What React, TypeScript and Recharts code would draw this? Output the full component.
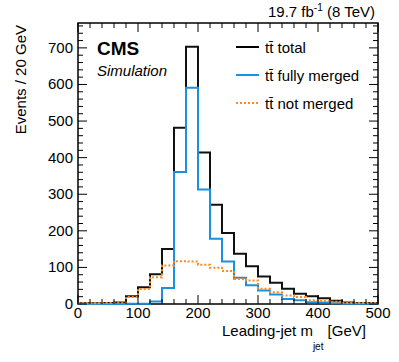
import React from 'react';
import { LineChart, Line, XAxis, YAxis, ReferenceArea } from 'recharts';

// bin edges in GeV (20 GeV bins), last edge closes the histogram
const binEdges = [
  0, 20, 40, 60, 80, 100, 120, 140, 160, 180, 200, 220, 240,
  260, 280, 300, 320, 340, 360, 380, 400, 420, 440, 460, 480, 500,
];

const totalCounts = [
  2, 2, 3, 4, 21, 46, 81, 150, 482, 703, 414, 271, 194,
  137, 103, 75, 58, 42, 28, 21, 16, 9, 4, 3, 3,
];
const mergedCounts = [
  0, 0, 0, 0, 1, 1, 7, 44, 361, 591, 313, 178, 116,
  72, 51, 37, 26, 14, 10, 5, 4, 2, 1, 1, 1,
];
const notMergedCounts = [
  2, 2, 3, 4, 19, 41, 73, 105, 117, 116, 107, 99, 90,
  68, 64, 42, 32, 23, 19, 10, 8, 6, 3, 3, 3,
];

const Y_MAX = 768;

const W = 399;
const H = 362;
const M = { top: 23, right: 21, bottom: 58, left: 78 };
const PW = W - M.left - M.right;
const PH = H - M.top - M.bottom;

const FONT = '"Liberation Sans", Arial, Helvetica, sans-serif';
const BLUE = '#1b8fe0';
const ORANGE = '#ff8a1c';

// step data: each row is the left edge of a bin, final row repeats the last bin
const rows = binEdges.map((edge, i) => {
  const j = Math.min(i, totalCounts.length - 1);
  return {
    x: edge,
    total: totalCounts[j],
    merged: mergedCounts[j],
    notMerged: notMergedCounts[j],
  };
});

const xMinor: number[] = [];
for (let v = 0; v <= 500; v += 20) xMinor.push(v);
const yMinor: number[] = [];
for (let v = 0; v <= 760; v += 20) yMinor.push(v);

// ticks point inwards, mirrored on top / right like ROOT
const XTick = (props: any) => {
  const { x, y, payload } = props;
  const major = payload.value % 100 === 0;
  const len = major ? 9 : 5;
  return (
    <g>
      <line x1={x} x2={x} y1={y} y2={y - len} stroke="#000" strokeWidth={1} />
      <line x1={x} x2={x} y1={y - PH} y2={y - PH + len} stroke="#000" strokeWidth={1} />
      {major && (
        <text x={x} y={y + 14} textAnchor="middle" fontSize={15} fontFamily={FONT} fill="#000">
          {payload.value}
        </text>
      )}
    </g>
  );
};

const YTick = (props: any) => {
  const { x, y, payload } = props;
  const major = payload.value % 100 === 0;
  const len = major ? 9 : 5;
  return (
    <g>
      <line x1={x} x2={x + len} y1={y} y2={y} stroke="#000" strokeWidth={1} />
      <line x1={x + PW} x2={x + PW - len} y1={y} y2={y} stroke="#000" strokeWidth={1} />
      {major && (
        <text x={x - 5} y={y + 5} textAnchor="end" fontSize={15} fontFamily={FONT} fill="#000">
          {payload.value}
        </text>
      )}
    </g>
  );
};

const legendItems = [
  { label: ' total', color: '#000', dash: undefined as string | undefined },
  { label: ' fully merged', color: BLUE, dash: undefined },
  { label: ' not merged', color: ORANGE, dash: '2 2' },
];

const TTbar = () => (
  <tspan>t<tspan>t&#x0304;</tspan></tspan>
);

export default function App() {
  return (
    <div style={{ position: 'absolute', left: 0, top: 0, background: '#fff' }}>
      <LineChart width={W} height={H} data={rows} margin={{ top: M.top, right: M.right, bottom: 0, left: 0 }}>
        <XAxis
          dataKey="x"
          type="number"
          domain={[0, 500]}
          ticks={xMinor}
          tick={<XTick />}
          tickLine={false}
          tickSize={0}
          tickMargin={0}
          axisLine={false}
          height={M.bottom}
          interval={0}
        />
        <YAxis
          type="number"
          domain={[0, Y_MAX]}
          ticks={yMinor}
          tick={<YTick />}
          tickLine={false}
          tickSize={0}
          tickMargin={0}
          axisLine={false}
          width={M.left}
          interval={0}
        />
        <Line type="stepAfter" dataKey="total" stroke="#111" strokeWidth={2} dot={false} isAnimationActive={false} />
        <Line type="stepAfter" dataKey="merged" stroke={BLUE} strokeWidth={2} dot={false} isAnimationActive={false} />
        <Line type="stepAfter" dataKey="notMerged" stroke={ORANGE} strokeWidth={2} strokeDasharray="2 2" dot={false} isAnimationActive={false} />
        <ReferenceArea x1={0} x2={500} y1={0} y2={Y_MAX} fill="none" stroke="#000" strokeWidth={1.5} ifOverflow="extendDomain" />
        {/* overlay text */}
        <text x={375} y={17} textAnchor="end" fontSize={15} fontFamily={FONT} fill="#000">
          19.7 fb<tspan dy={-6} fontSize={10}>-1</tspan><tspan dy={6}> (8 TeV)</tspan>
        </text>
        <text x={97} y={55} fontSize={19} fontWeight="bold" fontFamily={FONT} fill="#000">CMS</text>
        <text x={97} y={76} fontSize={15} fontStyle="italic" fontFamily={FONT} fill="#000">Simulation</text>
        {legendItems.map((it, i) => (
          <g key={i}>
            <line x1={236} x2={259} y1={47 + i * 28} y2={47 + i * 28} stroke={it.color} strokeWidth={2} strokeDasharray={it.dash} />
            <text x={265} y={53 + i * 28} fontSize={15} fontFamily={FONT} fill="#000">
              <TTbar />{it.label}
            </text>
          </g>
        ))}
        <text
          transform={`translate(26, 25) rotate(-90)`}
          textAnchor="end"
          fontSize={15}
          fontFamily={FONT}
          fill="#000"
        >
          Events / 20 GeV
        </text>
        <text x={222} y={336} fontSize={15} fontFamily={FONT} fill="#000">
          Leading-jet m<tspan dy={14} fontSize={10}>jet</tspan><tspan dy={-14}>  [GeV]</tspan>
        </text>
      </LineChart>
    </div>
  );
}
